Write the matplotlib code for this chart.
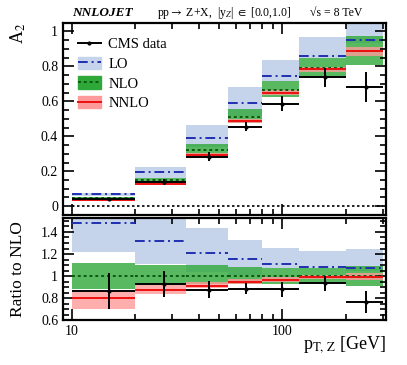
import numpy as np
import matplotlib
matplotlib.use("Agg")
import matplotlib.pyplot as plt
from matplotlib.patches import Patch
from matplotlib.lines import Line2D
from matplotlib.ticker import LogLocator, MultipleLocator, FuncFormatter, NullFormatter

# pT,Z bin edges [GeV]
edges = [10, 20, 35, 55, 80, 120, 200, 300]

# A2 predictions (central, scale band low / high)
lo_c = [0.068, 0.195, 0.392, 0.591, 0.742, 0.857, 0.952]
lo_dn = [0.056, 0.164, 0.336, 0.518, 0.717, 0.845, 0.935]
lo_up = [0.076, 0.224, 0.463, 0.681, 0.834, 0.969, 1.108]

nlo_c = [0.046, 0.148, 0.323, 0.513, 0.667, 0.790, 0.890]
nlo_dn = [0.0405, 0.138, 0.299, 0.477, 0.623, 0.738, 0.810]
nlo_up = [0.0513, 0.163, 0.355, 0.557, 0.717, 0.845, 0.974]

nnlo_c = [0.0368, 0.130, 0.294, 0.487, 0.647, 0.782, 0.885]
nnlo_dn = [0.0325, 0.124, 0.289, 0.477, 0.634, 0.769, 0.858]
nnlo_up = [0.0396, 0.138, 0.307, 0.498, 0.663, 0.798, 0.912]

# CMS data
data = [0.0397, 0.1376, 0.283, 0.4555, 0.587, 0.738, 0.682]
data_err = [0.0075, 0.017, 0.025, 0.025, 0.045, 0.054, 0.085]

plt.rcParams["font.family"] = ["Liberation Serif", "DejaVu Serif"]
plt.rcParams["mathtext.fontset"] = "stix"

LO_BAND = "#c5d3eb"
LO_LINE = "#1f2fb0"
NLO_BAND = "#2fa83a"
NLO_LINE = "#0b5a10"
NNLO_BAND = "#ff9a9a"
NNLO_LINE = "#ee1010"


def draw(ax, scale):
    e = np.array(edges, dtype=float)
    x0, x1 = e[:-1], e[1:]
    xc = 0.5 * (x0 + x1)
    s = np.asarray(scale)
    bands = [
        (lo_dn, lo_up, LO_BAND, 1.0),
        (nlo_dn, nlo_up, NLO_BAND, 0.8),
        (nnlo_dn, nnlo_up, NNLO_BAND, 0.8),
    ]
    for dn, up, col, a in bands:
        for i in range(len(x0)):
            ax.fill_between([x0[i], x1[i]], dn[i] / s[i], up[i] / s[i],
                            color=col, alpha=a, lw=0, zorder=1)
    ax.hlines(np.array(lo_c) / s, x0, x1, colors=LO_LINE, linestyles=(0, (5, 2, 1, 2)),
              lw=1.4, zorder=3)
    ax.hlines(np.array(nlo_c) / s, x0, x1, colors=NLO_LINE, linestyles=(0, (1.5, 1.5)),
              lw=1.4, zorder=3)
    ax.hlines(np.array(nnlo_c) / s, x0, x1, colors=NNLO_LINE, lw=1.4, zorder=3)
    d = np.array(data) / s
    de = np.array(data_err) / s
    ax.errorbar(xc, d, yerr=de, xerr=[xc - x0, x1 - xc], fmt="o", ms=2,
                color="black", elinewidth=1.4, capsize=0, zorder=5)


def style(ax):
    ax.set_xscale("log")
    ax.set_xlim(9.1, 310)
    ax.tick_params(which="both", direction="in", top=True, right=True, width=1.2,
                   labelsize=10)
    ax.tick_params(which="major", length=8)
    ax.tick_params(which="minor", length=4)
    ax.xaxis.set_major_locator(LogLocator(base=10, numticks=5))
    ax.xaxis.set_minor_locator(LogLocator(base=10, subs=np.arange(2, 10), numticks=10))
    ax.xaxis.set_minor_formatter(NullFormatter())
    for sp in ax.spines.values():
        sp.set_linewidth(1.6)


fig = plt.figure(figsize=(4.07, 3.65), dpi=100)
ax1 = fig.add_axes([0.155, 0.411, 0.793, 0.527])
ax2 = fig.add_axes([0.155, 0.122, 0.793, 0.282])

draw(ax1, np.ones(len(data)))
ax1.hlines(0, 10, 300, colors="black", linestyles=(0, (1.5, 1.5)), lw=1.2, zorder=2)
style(ax1)
ax1.set_ylim(-0.05, 1.05)
ax1.yaxis.set_major_locator(MultipleLocator(0.2))
ax1.yaxis.set_minor_locator(MultipleLocator(0.05))
ax1.yaxis.set_major_formatter(FuncFormatter(lambda v, p: "%g" % round(v, 2)))
ax1.set_xticklabels([])

draw(ax2, nlo_c)
style(ax2)
ax2.set_ylim(0.6, 1.53)
ax2.yaxis.set_major_locator(MultipleLocator(0.2))
ax2.yaxis.set_minor_locator(MultipleLocator(0.05))
ax2.yaxis.set_major_formatter(FuncFormatter(lambda v, p: "%g" % round(v, 2)))
ax2.xaxis.set_major_formatter(FuncFormatter(lambda v, p: "%d" % v))

handles = [
    Line2D([], [], color="black", marker="o", ms=2, lw=1.4),
    (Patch(color=LO_BAND), Line2D([], [], color=LO_LINE, ls=(0, (5, 2, 1, 2)), lw=1.4)),
    (Patch(color=NLO_BAND), Line2D([], [], color=NLO_LINE, ls=(0, (1.5, 1.5)), lw=1.4)),
    (Patch(color=NNLO_BAND), Line2D([], [], color=NNLO_LINE, lw=1.4)),
]
ax1.legend(handles, ["CMS data", "LO", "NLO", "NNLO"], loc="upper left",
           bbox_to_anchor=(0.0, 1.0), frameon=False, fontsize=10.5,
           handlelength=1.6, handleheight=0.9, handletextpad=0.5,
           labelspacing=0.38, borderaxespad=0.6)

fig.text(0.177, 0.965, "NNLOJET", fontsize=9.5, fontweight="bold", style="italic",
         va="center", ha="left")
fig.text(0.385, 0.965, r"pp$\rightarrow$ Z+X,  |y$_{Z}$| $\in$ [0.0,1.0]", fontsize=8.5,
         va="center", ha="left")
fig.text(0.89, 0.965, "\u221as = 8 TeV", fontsize=8.5, va="center", ha="right")

fig.text(0.045, 0.938, "A$_2$", fontsize=13, rotation=90, va="top", ha="center")
fig.text(0.045, 0.395, "Ratio to NLO", fontsize=12.5, rotation=90, va="top", ha="center")
fig.text(0.948, 0.055, r"p$_{\rm T,\,Z}$ [GeV]", fontsize=13, va="center", ha="right")

fig.savefig("out.png", dpi=100)
